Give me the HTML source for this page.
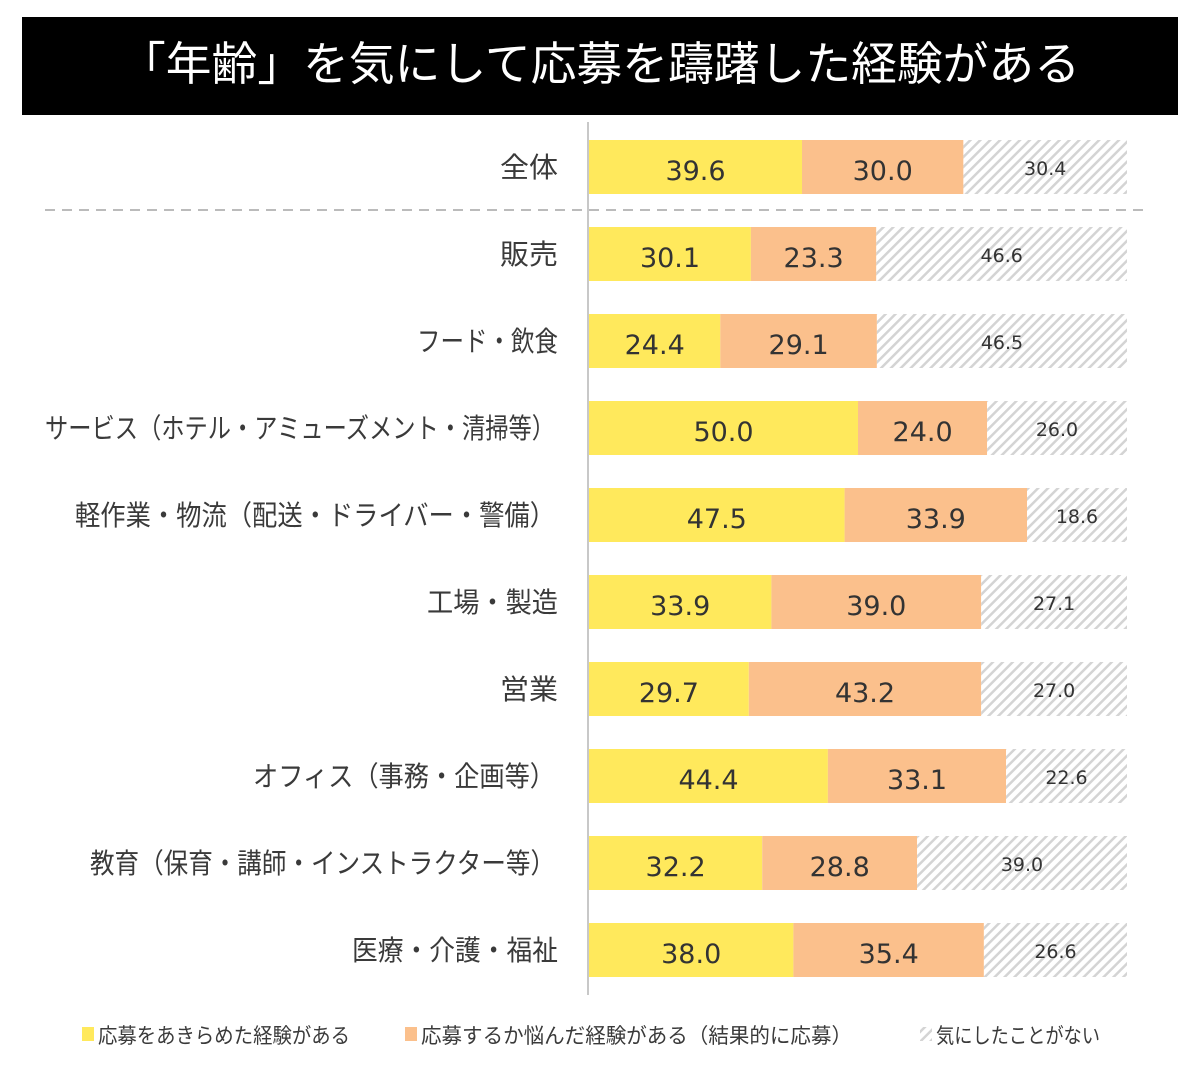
<!DOCTYPE html>
<html><head><meta charset="utf-8"><style>
html,body{margin:0;padding:0;background:#fff;}
svg{display:block;font-family:"Liberation Sans","Noto Sans CJK JP",sans-serif;}
.n{font-family:"DejaVu Sans","Liberation Sans",sans-serif;}
</style></head><body>
<svg width="1200" height="1067" viewBox="0 0 1200 1067" xmlns="http://www.w3.org/2000/svg">
<defs>
<pattern id="h" width="7" height="7" patternUnits="userSpaceOnUse" patternTransform="rotate(45)">
<rect width="7" height="7" fill="#fff"/>
<rect x="0" y="0" width="2.5" height="7" fill="#d4d4d4"/>
</pattern>
</defs>
<rect x="22" y="17" width="1156" height="98" fill="#000"/>
<text x="600" y="80" fill="#fff" font-size="46" text-anchor="middle" textLength="960" lengthAdjust="spacingAndGlyphs">「年齢」を気にして応募を躊躇した経験がある</text>
<line x1="588" y1="122" x2="588" y2="995" stroke="#c8c8c8" stroke-width="2"/>
<line x1="45" y1="210" x2="1148" y2="210" stroke="#bbb" stroke-width="2" stroke-dasharray="10,7"/>
<g font-size="28" fill="#3a3a3a" text-anchor="end">
<text x="558" y="177" textLength="58" lengthAdjust="spacingAndGlyphs">全体</text>
<text x="558" y="264" textLength="58" lengthAdjust="spacingAndGlyphs">販売</text>
<text x="558" y="351" textLength="141" lengthAdjust="spacingAndGlyphs">フード・飲食</text>
<text x="555" y="438" textLength="510" lengthAdjust="spacingAndGlyphs">サービス（ホテル・アミューズメント・清掃等）</text>
<text x="555" y="525" textLength="480" lengthAdjust="spacingAndGlyphs">軽作業・物流（配送・ドライバー・警備）</text>
<text x="558" y="612" textLength="131" lengthAdjust="spacingAndGlyphs">工場・製造</text>
<text x="558" y="699" textLength="58" lengthAdjust="spacingAndGlyphs">営業</text>
<text x="555" y="786" textLength="302" lengthAdjust="spacingAndGlyphs">オフィス（事務・企画等）</text>
<text x="555" y="873" textLength="465" lengthAdjust="spacingAndGlyphs">教育（保育・講師・インストラクター等）</text>
<text x="558" y="960" textLength="206" lengthAdjust="spacingAndGlyphs">医療・介護・福祉</text>
</g>
<g>
<rect x="589" y="140" width="213" height="54" fill="#ffe95c"/><rect x="802" y="140" width="161.4" height="54" fill="#fbc08c"/><rect x="963.4" y="140" width="163.6" height="54" fill="url(#h)"/>
<rect x="589" y="227" width="161.9" height="54" fill="#ffe95c"/><rect x="750.9" y="227" width="125.4" height="54" fill="#fbc08c"/><rect x="876.3" y="227" width="250.7" height="54" fill="url(#h)"/>
<rect x="589" y="314" width="131.3" height="54" fill="#ffe95c"/><rect x="720.3" y="314" width="156.6" height="54" fill="#fbc08c"/><rect x="876.9" y="314" width="250.1" height="54" fill="url(#h)"/>
<rect x="589" y="401" width="269" height="54" fill="#ffe95c"/><rect x="858" y="401" width="129.1" height="54" fill="#fbc08c"/><rect x="987.1" y="401" width="139.9" height="54" fill="url(#h)"/>
<rect x="589" y="488" width="255.6" height="54" fill="#ffe95c"/><rect x="844.6" y="488" width="182.4" height="54" fill="#fbc08c"/><rect x="1027" y="488" width="100" height="54" fill="url(#h)"/>
<rect x="589" y="575" width="182.4" height="54" fill="#ffe95c"/><rect x="771.4" y="575" width="209.8" height="54" fill="#fbc08c"/><rect x="981.2" y="575" width="145.8" height="54" fill="url(#h)"/>
<rect x="589" y="662" width="159.8" height="54" fill="#ffe95c"/><rect x="748.8" y="662" width="232.4" height="54" fill="#fbc08c"/><rect x="981.2" y="662" width="145.8" height="54" fill="url(#h)"/>
<rect x="589" y="749" width="238.9" height="54" fill="#ffe95c"/><rect x="827.9" y="749" width="178.1" height="54" fill="#fbc08c"/><rect x="1006" y="749" width="121" height="54" fill="url(#h)"/>
<rect x="589" y="836" width="173.2" height="54" fill="#ffe95c"/><rect x="762.2" y="836" width="154.9" height="54" fill="#fbc08c"/><rect x="917.1" y="836" width="209.9" height="54" fill="url(#h)"/>
<rect x="589" y="923" width="204.4" height="54" fill="#ffe95c"/><rect x="793.4" y="923" width="190.5" height="54" fill="#fbc08c"/><rect x="983.9" y="923" width="143.1" height="54" fill="url(#h)"/>
</g>
<g class="n" font-size="27" fill="#333" text-anchor="middle">
<text x="695.5" y="180">39.6</text><text x="882.7" y="180">30.0</text>
<text x="670" y="267">30.1</text><text x="813.6" y="267">23.3</text>
<text x="654.7" y="354">24.4</text><text x="798.6" y="354">29.1</text>
<text x="723.5" y="441">50.0</text><text x="922.6" y="441">24.0</text>
<text x="716.8" y="528">47.5</text><text x="935.8" y="528">33.9</text>
<text x="680.2" y="615">33.9</text><text x="876.3" y="615">39.0</text>
<text x="668.9" y="702">29.7</text><text x="865" y="702">43.2</text>
<text x="708.5" y="789">44.4</text><text x="917" y="789">33.1</text>
<text x="675.6" y="876">32.2</text><text x="839.7" y="876">28.8</text>
<text x="691.2" y="963">38.0</text><text x="888.7" y="963">35.4</text>
</g>
<g class="n" font-size="19" fill="#333" text-anchor="middle">
<text x="1045.2" y="175">30.4</text>
<text x="1001.7" y="262">46.6</text>
<text x="1002" y="349">46.5</text>
<text x="1057" y="436">26.0</text>
<text x="1077" y="523">18.6</text>
<text x="1054.1" y="610">27.1</text>
<text x="1054.1" y="697">27.0</text>
<text x="1066.5" y="784">22.6</text>
<text x="1022" y="871">39.0</text>
<text x="1055.5" y="958">26.6</text>
</g>
<g font-size="21" fill="#3a3a3a">
<rect x="82" y="1027" width="12" height="14" fill="#ffe95c"/>
<text x="98" y="1043" textLength="252" lengthAdjust="spacingAndGlyphs">応募をあきらめた経験がある</text>
<rect x="405" y="1027" width="12" height="14" fill="#fbc08c"/>
<text x="421" y="1043" textLength="431" lengthAdjust="spacingAndGlyphs">応募するか悩んだ経験がある（結果的に応募）</text>
<rect x="920" y="1027" width="12" height="14" fill="url(#h)"/>
<text x="936" y="1043" textLength="164" lengthAdjust="spacingAndGlyphs">気にしたことがない</text>
</g>
</svg>
</body></html>
